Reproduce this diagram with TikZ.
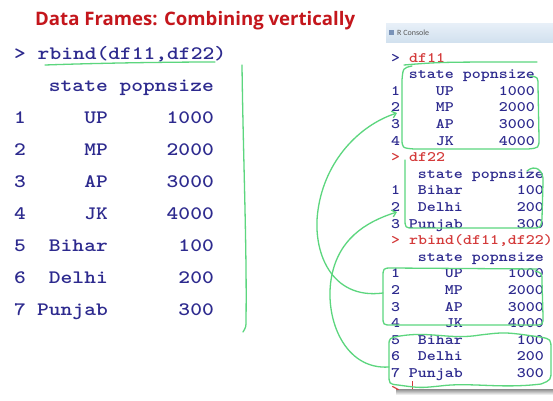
\documentclass[tikz,border=0pt]{standalone}
\usepackage{fontspec}
\newfontfamily\cour{lmmonolt10-bold.otf}[FakeStretch=1.18]
\newfontfamily\titlefont{Open Sans}
\newfontfamily\barfont{Carlito}
\usetikzlibrary{arrows.meta}
\definecolor{navy}{HTML}{2D2A8E}
\definecolor{ttred}{HTML}{D43A3A}
\definecolor{titlered}{HTML}{C4161C}
\definecolor{pen}{HTML}{5CD67E}
\definecolor{bartop}{HTML}{E8F0F8}
\definecolor{barbot}{HTML}{D2E1EF}
\definecolor{iconblue}{HTML}{7A93B8}
\begin{document}
\begin{tikzpicture}[x=1pt,y=-1pt,
  big/.style={font=\cour\fontsize{19}{20}\selectfont, text=navy, inner sep=0pt},
  con/.style={font=\cour\fontsize{14.5}{16}\selectfont, text=navy, inner sep=0pt},
  conred/.style={con, text=ttred},
  ink/.style={draw=pen, line width=1.3pt, line cap=round, line join=round},
  inkarrow/.style={ink, -{Straight Barb[length=4pt,width=7pt]}},
]
\useasboundingbox (0,0) rectangle (553,400);
\fill[white] (0,0) rectangle (553,400);

% title
\node[anchor=base west, font=\titlefont\bfseries\fontsize{18.6}{21}\selectfont,
      text=titlered, inner sep=0pt] (title) at (35,25) {Data Frames: Combining vertically};

% left output
\node[big, anchor=base west] (cmd) at (14,59) {> rbind(df11,df22)};
\node[big, anchor=base east] (Lhs) at (108,91) {state};
\node[big, anchor=base east] (Lhv) at (214,91) {popnsize};
\foreach \n/\s/\v [count=\i] in {1/UP/1000,2/MP/2000,3/AP/3000,4/JK/4000,5/Bihar/100,6/Delhi/200,7/Punjab/300}{
  \pgfmathsetmacro\yy{123+32*(\i-1)}
  \node[big, anchor=base west] (Ln\i) at (14,\yy) {\n};
  \node[big, anchor=base east] (Ls\i) at (108,\yy) {\s};
  \node[big, anchor=base east] (Lv\i) at (214,\yy) {\v};
}

% console window
\shade[top color=bartop, bottom color=barbot] (386,23) rectangle (553,42);
\fill[iconblue] (388.5,30) rectangle (393.5,35);
\node[anchor=west, font=\barfont\fontsize{8}{9}\selectfont, text=black!65, inner sep=0pt]
  (rtitle) at (397,33) {R Console};
\shade[top color=black!45, bottom color=white] (396,389) rectangle (553,395);

% console text
\node[conred, anchor=base west] (p1) at (391,62) {\textcolor{navy}{>} df11};
\node[con, anchor=base east] (a-hs) at (454,78.6) {state};
\node[con, anchor=base east] (a-hv) at (535,78.6) {popnsize};
\foreach \n/\s/\v [count=\i] in {1/UP/1000,2/MP/2000,3/AP/3000,4/JK/4000}{
  \pgfmathsetmacro\yy{62+16.6*(\i+1)}
  \node[con, anchor=base west] (an\i) at (391,\yy) {\n};
  \node[con, anchor=base east] (as\i) at (454,\yy) {\s};
  \node[con, anchor=base east] (av\i) at (535,\yy) {\v};
}
\node[conred, anchor=base west] (p2) at (391,161.6) {> df22};
\node[con, anchor=base east] (b-hs) at (463,178.2) {state};
\node[con, anchor=base east] (b-hv) at (544,178.2) {popnsize};
\foreach \n/\s/\v [count=\i] in {1/Bihar/100,2/Delhi/200,3/Punjab/300}{
  \pgfmathsetmacro\yy{62+16.6*(\i+7)}
  \node[con, anchor=base west] (bn\i) at (391,\yy) {\n};
  \node[con, anchor=base east] (bs\i) at (463,\yy) {\s};
  \node[con, anchor=base east] (bv\i) at (544,\yy) {\v};
}
\node[conred, anchor=base west] (p3) at (391,244.6) {> rbind(df11,df22)};
\node[con, anchor=base east] (c-hs) at (463,261.2) {state};
\node[con, anchor=base east] (c-hv) at (544,261.2) {popnsize};
\foreach \n/\s/\v [count=\i] in {1/UP/1000,2/MP/2000,3/AP/3000,4/JK/4000,5/Bihar/100,6/Delhi/200,7/Punjab/300}{
  \pgfmathsetmacro\yy{62+16.6*(\i+12)}
  \node[con, anchor=base west] (cn\i) at (391,\yy) {\n};
  \node[con, anchor=base east] (cs\i) at (463,\yy) {\s};
  \node[con, anchor=base east] (cv\i) at (544,\yy) {\v};
}
\begin{scope}
  \clip (380,375) rectangle (553,389.5);
  \node[conred, anchor=base west] (p4) at (391,394) {>};
\end{scope}
\draw[ttred, line width=0.9pt] (412,381) -- (412,389);

% hand-drawn green ink
\draw[ink] (45,65) .. controls (100,63) and (170,62) .. (215,62);
\draw[ink] (242,65) .. controls (243,150) and (247,250) .. (246,320) .. controls (246,327) .. (243,332);

% df11 box
\draw[ink] (404,65) .. controls (440,62) .. (537,62);
\draw[ink] (412,66) .. controls (403,68) .. (402,80) -- (402,138) .. controls (402,148) .. (414,149)
  -- (528,149) .. controls (539,148) .. (539,138) -- (538,86) .. controls (538,77) .. (530,76);
% df22 box
\draw[ink] (527,171) .. controls (535,164) and (544,170) .. (543,182) -- (542,218)
  .. controls (541,228) .. (532,228) -- (414,228) .. controls (405,228) .. (405,218) -- (405,160);
% rbind rows 1-4
\draw[ink] (537,269) -- (392,268) .. controls (383,268) .. (383,278) -- (383,316)
  .. controls (383,325) .. (392,325) -- (534,325) .. controls (543,325) .. (543,316)
  -- (542,282) .. controls (542,273) .. (535,271);
% rbind rows 5-7
\draw[ink] (400,336) .. controls (430,331) and (450,340) .. (480,335) .. controls (505,332) .. (540,337)
  .. controls (551,339) .. (551,350) -- (551,370) .. controls (551,380) .. (541,384)
  .. controls (500,389) and (470,382) .. (440,386) .. controls (420,388) .. (398,385)
  .. controls (389,384) .. (389,374) -- (389,346) .. controls (389,338) .. (400,336);

% arrows
\coordinate (A1) at (383,293);
\coordinate (A2) at (397,113);
\coordinate (B1) at (389,367);
\coordinate (B2) at (397,212);
\draw[inkarrow] (A1) .. controls (330,300) and (312,250) .. (318,210) .. controls (325,160) and (360,125) .. (A2);
\draw[inkarrow] (B1) .. controls (345,370) and (325,320) .. (331,280) .. controls (337,240) and (365,222) .. (B2);
\end{tikzpicture}
\end{document}
